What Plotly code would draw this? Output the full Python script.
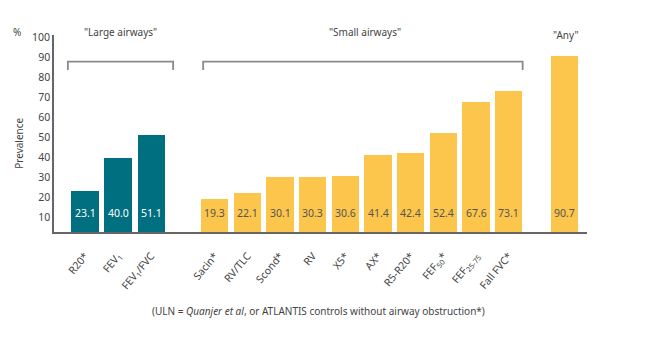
import plotly.graph_objects as go

# ---- data ----
large_labels = ["R20*", "FEV<sub>1</sub>", "FEV<sub>1</sub>/FVC"]
large_values = [23.1, 40.0, 51.1]
small_labels = ["Sacin*", "RV/TLC", "Scond*", "RV", "X5*", "AX*", "R5-R20*",
                "FEF<sub>50</sub>*", "FEF<sub>25-75</sub>", "Fall FVC*"]
small_values = [19.3, 22.1, 30.1, 30.3, 30.6, 41.4, 42.4, 52.4, 67.6, 73.1]
any_labels = [" "]
any_values = [90.7]
group_titles = ['"Large airways"', '"Small airways"', '"Any"']
y_ticks = [10, 20, 30, 40, 50, 60, 70, 80, 90, 100]

TEAL = "#006F80"
YELLOW = "#FCC54B"
FONT = "Noto Sans"
TXT = "#444444"

# x positions: groups separated by gaps
large_x = [i * 1.0 for i in range(len(large_values))]
small_start = 3.93
small_step = 0.99
small_x = [small_start + small_step * k for k in range(len(small_values))]
any_x = [14.52]

fig = go.Figure()
fig.add_trace(go.Bar(x=large_x, y=large_values, width=0.82,
                     marker=dict(color=TEAL, line=dict(width=0)), hoverinfo="skip"))
fig.add_trace(go.Bar(x=small_x, y=small_values, width=0.83,
                     marker=dict(color=YELLOW, line=dict(width=0)), hoverinfo="skip"))
fig.add_trace(go.Bar(x=any_x, y=any_values, width=0.83,
                     marker=dict(color=YELLOW, line=dict(width=0)), hoverinfo="skip"))

ann = []
for xv, v in zip(large_x, large_values):
    ann.append(dict(x=xv, y=12.5, text=f"{v:.1f}", showarrow=False,
                    font=dict(family=FONT, size=10.5, color="white"), xref="x", yref="y"))
for xv, v in zip(small_x + any_x, small_values + any_values):
    ann.append(dict(x=xv, y=12.5, text=f"{v:.1f}", showarrow=False,
                    font=dict(family=FONT, size=10.5, color="#555555"), xref="x", yref="y"))

# group titles (paper y, so they are not hidden above the axis range)
ann.append(dict(x=1.06, y=1.015, text=group_titles[0], showarrow=False,
                xanchor="center", yanchor="middle",
                font=dict(family=FONT, size=10, color=TXT), xref="x", yref="paper"))
ann.append(dict(x=8.48, y=1.015, text=group_titles[1], showarrow=False,
                xanchor="center", yanchor="middle",
                font=dict(family=FONT, size=10, color=TXT), xref="x", yref="paper"))
ann.append(dict(x=any_x[0] + 0.06, y=1.0, text=group_titles[2], showarrow=False,
                xanchor="center", yanchor="middle",
                font=dict(family=FONT, size=10, color=TXT), xref="x", yref="paper"))

# axis titles / notes
ann.append(dict(x=-0.069, y=1.015, text="%", showarrow=False, xref="paper", yref="paper",
                xanchor="center", yanchor="middle",
                font=dict(family=FONT, size=10, color=TXT)))
ann.append(dict(x=-0.066, y=0.452, text="Prevalence", textangle=-90, showarrow=False,
                xanchor="center", yanchor="middle",
                xref="paper", yref="paper", font=dict(family=FONT, size=10, color=TXT)))
ann.append(dict(x=0.497, y=-0.40, text="(ULN = <i>Quanjer et al</i>, or ATLANTIS controls without airway obstruction*)",
                showarrow=False, xref="paper", yref="paper", xanchor="center", yanchor="middle",
                font=dict(family=FONT, size=10, color=TXT)))

# brackets
shapes = []
for x0, x1 in [(large_x[0] - 0.52, large_x[-1] + 0.67), (small_x[0] - 0.35, small_x[-1] + 0.42)]:
    shapes.append(dict(type="path", xref="x", yref="y",
                       path=f"M {x0} 83.8 L {x0} 87.9 L {x1} 87.9 L {x1} 83.8",
                       line=dict(color="#8a8a8a", width=1.8)))

fig.update_layout(
    width=662, height=350,
    margin=dict(l=54, r=75, t=35, b=118),
    plot_bgcolor="white", paper_bgcolor="white",
    showlegend=False, bargap=0,
    annotations=ann, shapes=shapes,
    font=dict(family=FONT, color=TXT),
)
fig.update_xaxes(range=[-0.94, 15.21], tickvals=large_x + small_x + any_x,
                 ticktext=large_labels + small_labels + any_labels, tickangle=-50,
                 tickfont=dict(family=FONT, size=10.5, color=TXT), ticklabelstandoff=12,
                 showline=True, linecolor="#666", linewidth=1.5, ticks="",
                 showgrid=False, zeroline=False)
fig.update_yaxes(range=[2.75, 101.25], tickvals=y_ticks,
                 tickfont=dict(family=FONT, size=10.5, color=TXT),
                 showline=True, linecolor="#666", linewidth=1.5, ticks="",
                 showgrid=False, zeroline=False)

fig.write_html("out.html")
